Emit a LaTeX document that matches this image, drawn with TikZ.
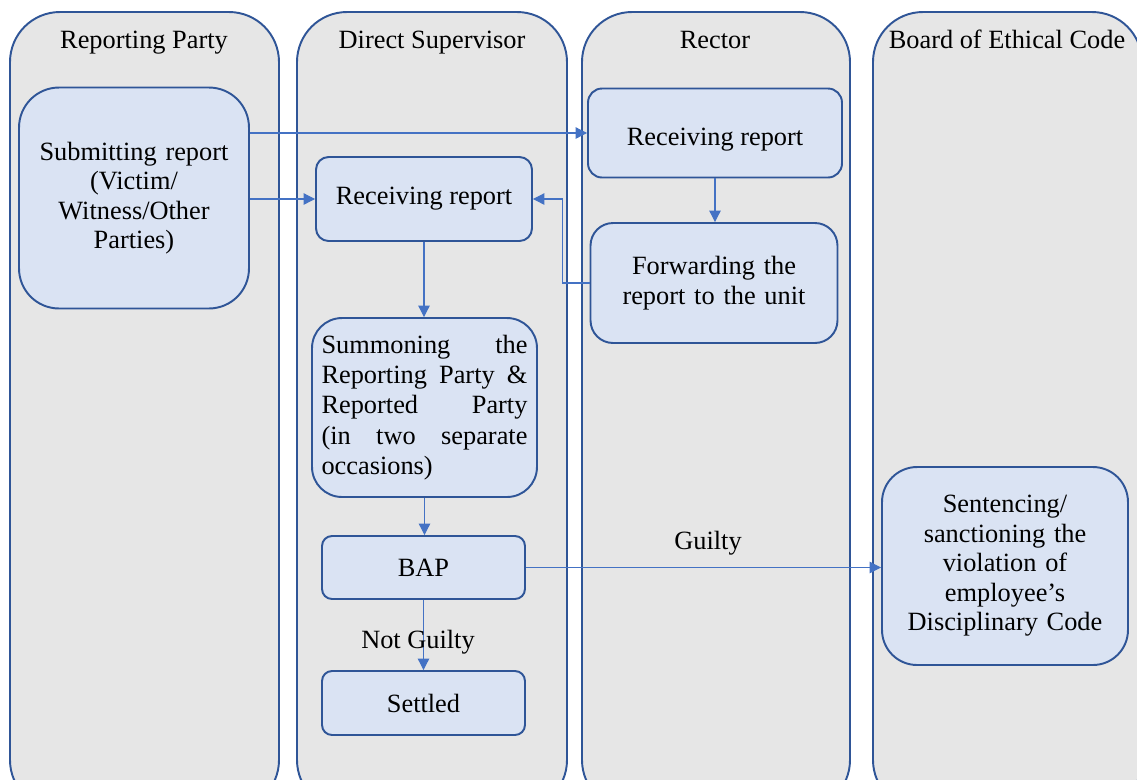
\documentclass[tikz,border=0pt]{standalone}
\usepackage{fontspec}
\setmainfont{Liberation Serif}
\usetikzlibrary{arrows.meta, positioning}
\definecolor{laneline}{HTML}{2F5597}
\definecolor{lanefill}{HTML}{E6E6E6}
\definecolor{boxfill}{HTML}{DAE3F3}
\definecolor{flowblue}{HTML}{4472C4}

\begin{document}
\begin{tikzpicture}[x=0.02cm, y=-0.02cm,
    font=\fontsize{15}{16.8}\selectfont,
    lane/.style={draw=laneline, line width=1.1pt, fill=lanefill, rounded corners=1cm},
    title/.style={inner sep=0pt, anchor=base},
    proc/.style={draw=laneline, line width=1.1pt, fill=boxfill, align=center, inner sep=2pt},
    flow/.style={draw=flowblue, line width=0.6pt, -{Triangle[length=6.5pt, width=6.5pt]}}]
    \useasboundingbox (0,0) rectangle (1137,779);
    \clip (0,0) rectangle (1137,779);
    % swimlanes
    \draw[lane] (10,12) rectangle (279,810);
    \draw[lane] (297,12) rectangle (567,810);
    \draw[lane] (582,12) rectangle (850,810);
    \draw[lane] (873,12) rectangle (1142,810);
    \node[title] (t1) at (144,48) {Reporting Party};
    \node[title] (t2) at (432,48) {Direct Supervisor};
    \node[title] (t3) at (715,48) {Rector};
    \node[title] (t4) at (1007,48) {Board of Ethical Code};
    % process boxes
    \node[proc, rounded corners=0.8cm, minimum width=4.6cm, minimum height=4.42cm, text width=4.2cm] (submit) at (134,198) {Submitting report\\ (Victim/\\ Witness/Other\\ Parties)};
    \node[proc, rounded corners=0.25cm, minimum width=4.32cm, minimum height=1.68cm] (dsrecv) at (424,199) {Receiving report};
    \node[proc, rounded corners=0.28cm, minimum width=5.08cm, minimum height=1.78cm] (rrecv) at (715,133) {\raisebox{-4pt}[\height][\depth]{Receiving report}};
    \node[proc, rounded corners=0.45cm, minimum width=4.94cm, minimum height=2.4cm, text width=4.6cm] (fwd) at (714,283) {Forwarding the\\ report to the unit};
    \node[proc, rounded corners=0.6cm, minimum width=4.5cm, minimum height=3.58cm, text width=4.12cm, align=left, font=\fontsize{15}{17.2}\selectfont] (summ) at (424.5,407.5) {Summoning\hfill the\\ Reporting\hfill Party\hfill \&\\ Reported\hfill Party\\ (in\hfill two\hfill separate\\ occasions)};
    \node[proc, rounded corners=0.2cm, minimum width=4.06cm, minimum height=1.26cm] (bap) at (423.5,567.5) {BAP};
    \node[proc, rounded corners=0.2cm, minimum width=4.06cm, minimum height=1.28cm] (settled) at (423.5,703) {Settled};
    \node[proc, rounded corners=0.7cm, minimum width=4.92cm, minimum height=3.96cm, text width=4.6cm] (sent) at (1005,566) {Sentencing/\\ sanctioning the\\ violation of\\ employee’s\\ Disciplinary Code};
    % connectors
    \draw[flow] (submit.east |- rrecv.west) -- (rrecv.west);
    \draw[flow] (submit.east |- dsrecv.west) -- (dsrecv.west);
    \draw[flow] (rrecv.south) -- (rrecv.south |- fwd.north);
    \draw[flow] (fwd.west) -- ++(-27,0) |- (dsrecv.east);
    \draw[flow] (dsrecv.south) -- (dsrecv.south |- summ.north);
    \draw[flow] (summ.south) -- (summ.south |- bap.north);
    \draw[flow] (bap.south) -- (settled.north);
    \draw[flow] (bap.east) -- (bap.east -| sent.west);
    \node[title] (notguilty) at (418,648) {Not Guilty};
    \node[title] (guilty) at (708,549) {Guilty};
\end{tikzpicture}
\end{document}
